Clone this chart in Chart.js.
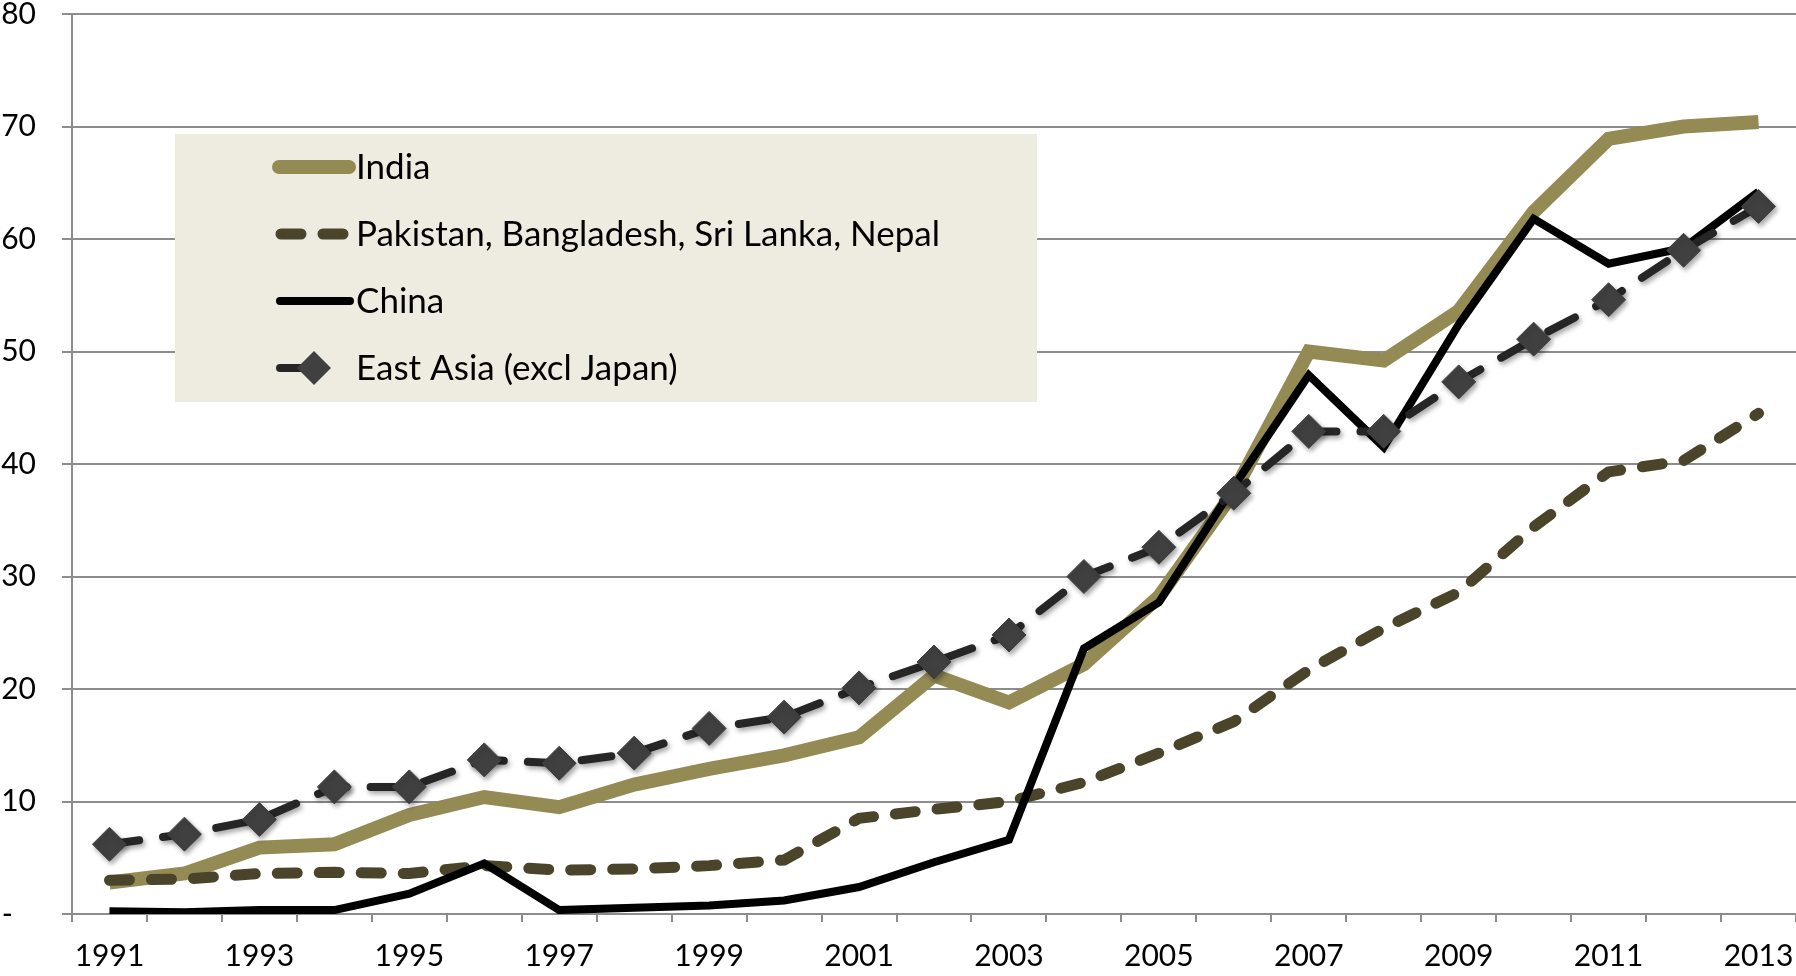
<!DOCTYPE html>
<html>
<head>
<meta charset="utf-8">
<script src="https://cdn.jsdelivr.net/npm/chart.js@4/dist/chart.umd.min.js"></script>
<style>
  html, body { margin: 0; padding: 0; background: #fff; }
  #wrap { width: 1796px; height: 976px; }
</style>
</head>
<body>
<div id="wrap"><canvas id="chart" width="1796" height="976"></canvas></div>
<script>
// categories + series
const years = ['1991', '1992', '1993', '1994', '1995', '1996', '1997', '1998', '1999', '2000', '2001', '2002',
  '2003', '2004', '2005', '2006', '2007', '2008', '2009', '2010', '2011', '2012', '2013'];

const india = [2.8, 3.6, 5.9, 6.2, 8.8, 10.4, 9.5, 11.5, 12.9, 14.1, 15.7, 21.2,
  18.8, 22.2, 28.2, 37.5, 50.0, 49.2, 53.6, 62.4, 68.9, 70.0, 70.4];
const southAsia = [3.0, 3.1, 3.6, 3.7, 3.6, 4.3, 3.9, 4.0, 4.3, 4.8, 8.5, 9.3,
  10.0, 11.7, 14.3, 17.1, 21.7, 25.4, 28.6, 34.4, 39.3, 40.3, 44.5];
const china = [0.25, 0.15, 0.35, 0.35, 1.8, 4.5, 0.35, 0.55, 0.75, 1.2, 2.4, 4.6,
  6.6, 23.6, 27.7, 38.0, 47.9, 41.5, 52.4, 61.8, 57.8, 59.2, 64.2];
const eastAsia = [6.2, 7.1, 8.4, 11.3, 11.3, 13.7, 13.4, 14.3, 16.5, 17.5, 20.1, 22.4,
  24.8, 30.0, 32.6, 37.4, 42.9, 42.9, 47.3, 51.1, 54.6, 59.0, 62.9];

const seriesNames = ['India', 'Pakistan, Bangladesh, Sri Lanka, Nepal', 'China', 'East Asia (excl Japan)'];
const yTicks = [0, 10, 20, 30, 40, 50, 60, 70, 80];

const GRID = '#8c8c8c';
const FONT = 'Lato, "Open Sans", sans-serif';

// legend in a beige box inside the plot, drawn under the lines
const boxLegend = {
  id: 'boxLegend',
  beforeDatasetsDraw(chart) {
    const ctx = chart.ctx;
    const rows = [167, 234, 301, 368];
    ctx.save();
    ctx.fillStyle = '#eeece1';
    ctx.fillRect(175, 134, 862, 268);
    chart.data.datasets.forEach((ds, i) => {
      const y = rows[i];
      ctx.strokeStyle = ds.borderColor;
      ctx.lineWidth = ds.borderWidth;
      ctx.lineCap = 'round';
      ctx.setLineDash(ds.borderDash || []);
      ctx.beginPath();
      ctx.moveTo(ds.legendFrom || 279, y);
      ctx.lineTo(ds.legendTo || 349, y);
      ctx.stroke();
      ctx.setLineDash([]);
      if (ds.pointRadius > 0) {
        const r = ds.pointRadius;
        ctx.fillStyle = ds.pointBackgroundColor;
        ctx.beginPath();
        ctx.moveTo(314, y - r); ctx.lineTo(314 + r, y); ctx.lineTo(314, y + r); ctx.lineTo(314 - r, y);
        ctx.closePath();
        ctx.fill();
      }
      ctx.fillStyle = '#000';
      ctx.font = '35px ' + FONT;
      ctx.textBaseline = 'middle';
      ctx.fillText(ds.label, 356, y + 1);
    });
    ctx.restore();
  },
  // soft drop shadow on the diamond series
  beforeDatasetDraw(chart, args) {
    if (chart.data.datasets[args.index].shadow) {
      const ctx = chart.ctx;
      ctx.save();
      ctx.shadowColor = 'rgba(0,0,0,0.35)';
      ctx.shadowBlur = 5;
      ctx.shadowOffsetX = 2;
      ctx.shadowOffsetY = 3;
    }
  },
  afterDatasetDraw(chart, args) {
    if (chart.data.datasets[args.index].shadow) chart.ctx.restore();
  }
};

new Chart(document.getElementById('chart'), {
  type: 'line',
  data: {
    labels: years,
    datasets: [
      { label: seriesNames[0], data: india, borderColor: '#948a54', borderWidth: 14,
        pointRadius: 0, order: 3, legendFrom: 279, legendTo: 349 },
      { label: seriesNames[1], data: southAsia, borderColor: '#4a452a', borderWidth: 11,
        borderDash: [20, 22], borderCapStyle: 'round', pointRadius: 0, order: 2,
        legendFrom: 281, legendTo: 343 },
      { label: seriesNames[2], data: china, borderColor: '#000000', borderWidth: 8,
        pointRadius: 0, order: 1, legendFrom: 280, legendTo: 350 },
      { label: seriesNames[3], data: eastAsia, borderColor: '#262626', borderWidth: 8,
        borderDash: [30, 24], borderCapStyle: 'round', pointStyle: 'rectRot', pointRadius: 17,
        pointBackgroundColor: '#404040', pointBorderColor: '#404040', pointBorderWidth: 1,
        order: 0, shadow: true, legendFrom: 280, legendTo: 310 }
    ]
  },
  options: {
    responsive: false,
    animation: false,
    devicePixelRatio: 1,
    layout: { autoPadding: false, padding: { top: 14, right: 0, left: 0, bottom: 0 } },
    plugins: { legend: { display: false }, tooltip: { enabled: false } },
    elements: { line: { tension: 0 } },
    scales: {
      x: {
        type: 'category',
        offset: true,
        grid: { offset: true, drawOnChartArea: false, tickLength: 8, color: GRID, lineWidth: 2 },
        border: { color: GRID, width: 2 },
        ticks: {
          autoSkip: false, maxRotation: 0, color: '#000', padding: 16,
          font: { family: FONT, size: 30 },
          callback: function (v, i) { return i % 2 === 0 ? this.getLabelForValue(v) : ''; }
        },
        afterFit: s => { s.height = 62; s.paddingLeft = 0; s.paddingRight = 0; }
      },
      y: {
        min: 0, max: 80,
        afterBuildTicks: s => { s.ticks = yTicks.map(v => ({ value: v })); },
        grid: { color: GRID, lineWidth: 2, tickLength: 10 },
        border: { color: GRID, width: 2 },
        ticks: {
          color: '#000', padding: 26,
          font: { family: FONT, size: 30 },
          callback: v => v === 0 ? '-   ' : String(v)
        },
        afterFit: s => { s.width = 72; s.paddingTop = 0; s.paddingBottom = 0; }
      }
    }
  },
  plugins: [boxLegend]
});
</script>
</body>
</html>
